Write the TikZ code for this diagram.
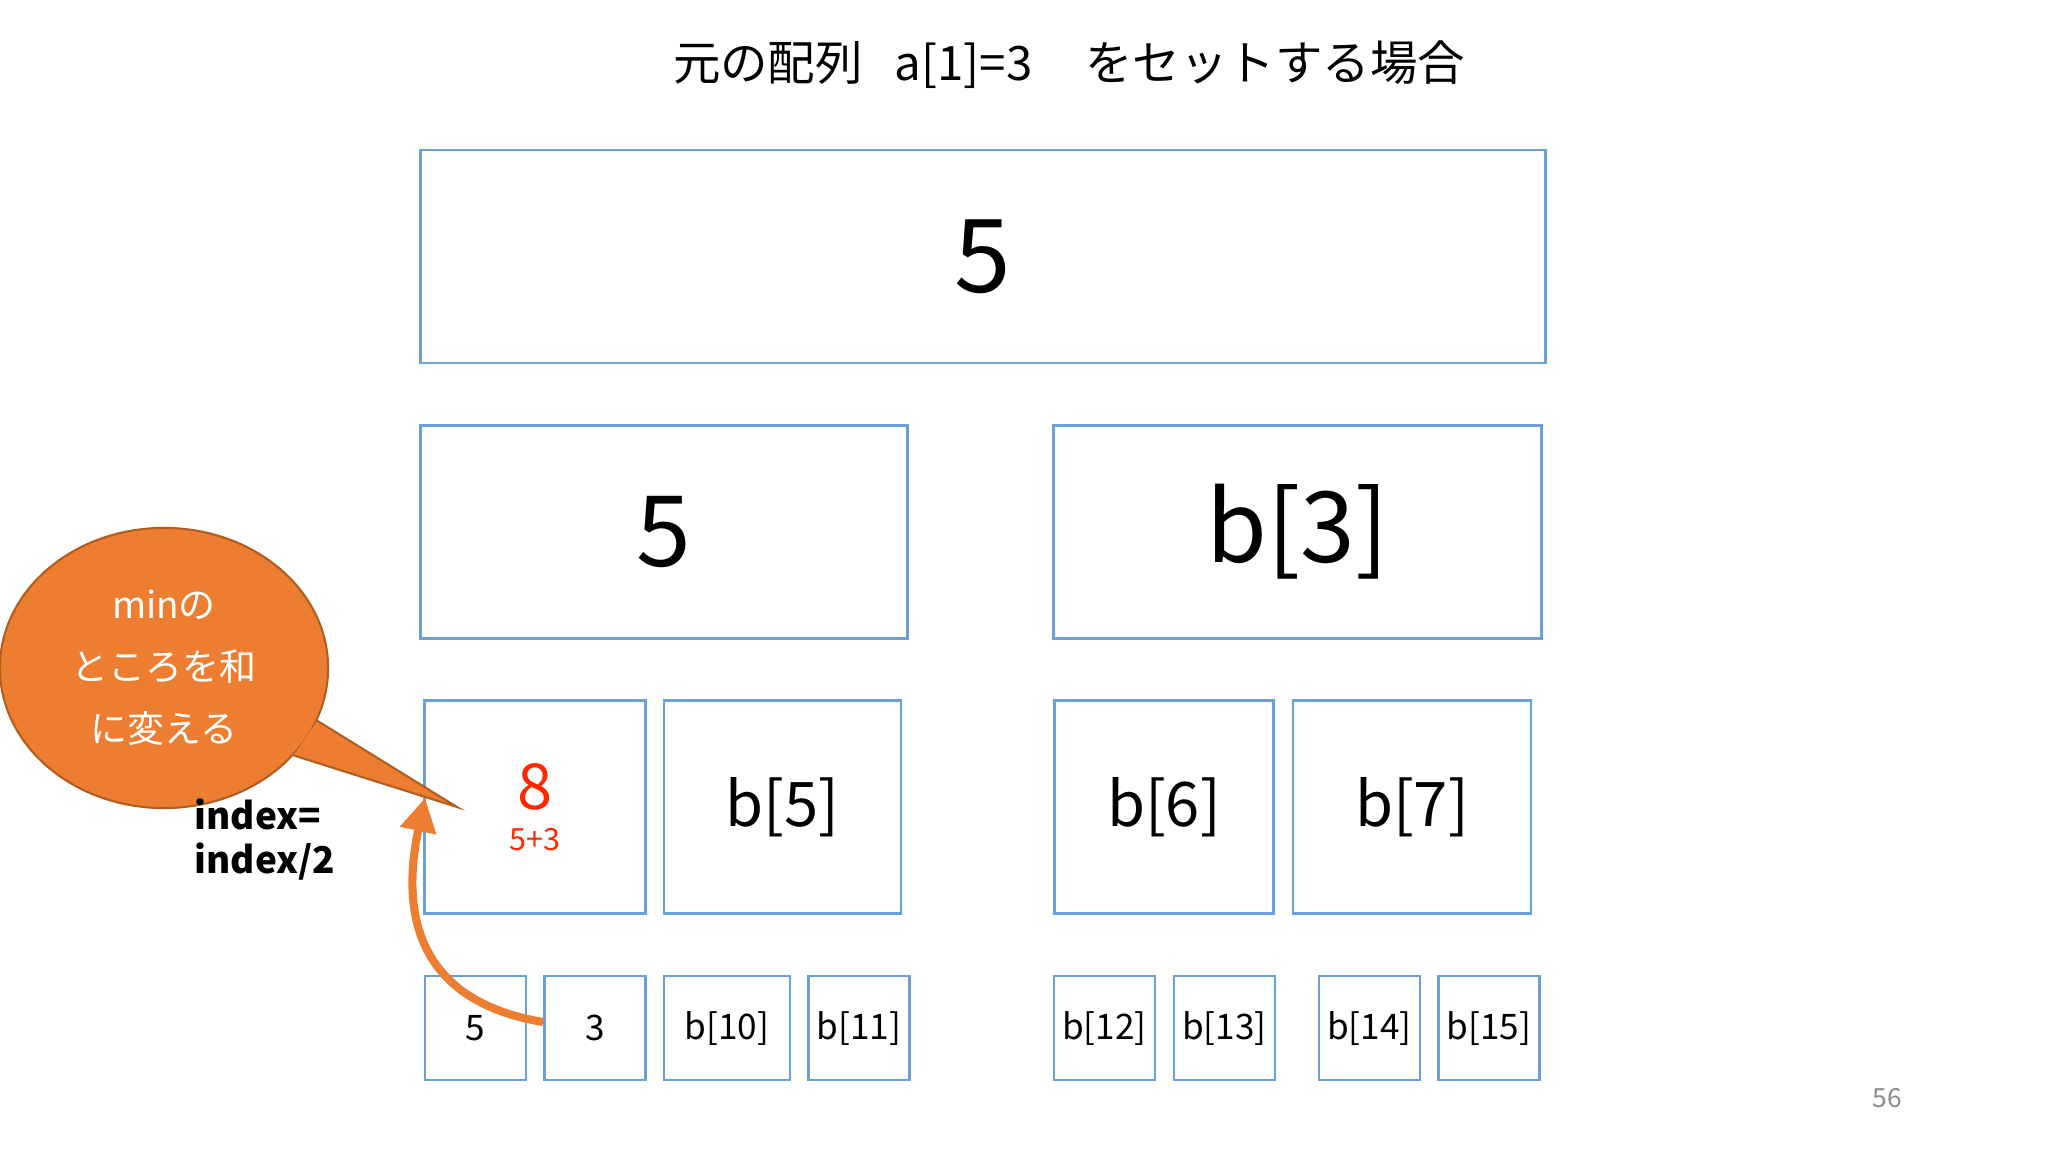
\documentclass[tikz,border=0pt]{standalone}
\usepackage{fontspec}
\setmainfont{Noto Sans CJK JP}
\usepackage{xcolor}
\usetikzlibrary{arrows.meta,shapes.geometric}
\definecolor{cellblue}{RGB}{106,159,216}
\definecolor{memoorange}{RGB}{237,125,49}
\definecolor{memoedge}{RGB}{178,94,30}
\definecolor{sumred}{RGB}{255,38,0}
\definecolor{pagegray}{RGB}{140,140,140}

\begin{document}
\begin{tikzpicture}[x=0.01cm, y=-0.01cm,
        cell/.style={draw=cellblue, line width=0.8pt, inner sep=0pt},
        bigcell/.style={cell, minimum height=2.13cm, font=\fontsize{28}{30}\selectfont},
        midcell/.style={cell, minimum height=2.13cm, font=\fontsize{17.5}{20}\selectfont},
        leafcell/.style={cell, minimum height=1.04cm, font=\fontsize{10}{12}\selectfont},
        memo/.style={ellipse, fill=memoorange, draw=memoedge, line width=0.6pt, minimum width=3.28cm,
            minimum height=2.8cm, inner sep=0pt, text=white, align=center, font=\fontsize{10.5}{17.6}\selectfont},
        sumarrow/.style={draw=memoorange, line width=2.3pt, -{Triangle[width=10pt,length=9.5pt]}}]
            \useasboundingbox (0, 0) rectangle (2048, 1152);
            \node (title) at (1069, 65) {\fontsize{13.5}{16}\selectfont 元の配列\hspace{9pt}a[1]=3\hspace{15pt}をセットする場合};
            \node[bigcell, minimum width=11.24cm, font=\fontsize{29}{30}\selectfont] (b1) at (983, 256.5) {5};
            \node[bigcell, minimum width=4.87cm] (b2) at (664, 532) {5};
            \node[bigcell, minimum width=4.87cm] (b3) at (1297.5, 532) {b[3]};
            \node[midcell, minimum width=2.21cm] (b4) at (535, 807) {};
            \node[midcell, minimum width=2.37cm] (b5) at (782.5, 807) {b[5]};
            \node[midcell, minimum width=2.19cm] (b6) at (1164, 807) {b[6]};
            \node[midcell, minimum width=2.38cm] (b7) at (1412, 807) {b[7]};
            \node[text=sumred, font=\fontsize{18}{20}\selectfont] (eight) at ([yshift=0.2cm]b4.center) {8};
            \node[text=sumred, font=\fontsize{8.7}{10}\selectfont] (fiveplus) at ([yshift=-0.33cm]b4.center) {5+3};
            \foreach \x/\w/\t [count=\i from 8] in {475.5/1.01/5, 595/1.01/3, 727/1.26/b[10], 859/1.01/b[11],
                    1104.5/1.01/b[12], 1224.5/1.01/b[13], 1369.5/1.01/b[14], 1489/1.01/b[15]} {
                \node[leafcell, minimum width=\w cm] (b\i) at (\x, 1028) {\t};
            }
            \node[memo] (memo) at (164, 668) {minの\\ところを和\\に変える};
            \coordinate (memotip) at (457, 807);
            \fill[memoorange] (memo.-19) -- (memotip) -- (memo.-34) -- cycle;
            \draw[memoedge, line width=0.6pt, line join=miter] (memo.-19) -- (memotip) -- (memo.-34);
            \node[anchor=west, align=left, inner sep=0pt, font=\bfseries\fontsize{10.5}{12.5}\selectfont] (idx) at (194, 840) {index=\\index/2};
            \coordinate (arrowtip) at (425, 798);
            \draw[sumarrow] ([yshift=0.06cm]b9.west) .. controls (440, 1005) and (395, 940) .. (arrowtip);
            \node[text=pagegray, font=\fontsize{7.5}{9}\selectfont] (pageno) at (1887, 1098) {56};
        \end{tikzpicture}
\end{document}
